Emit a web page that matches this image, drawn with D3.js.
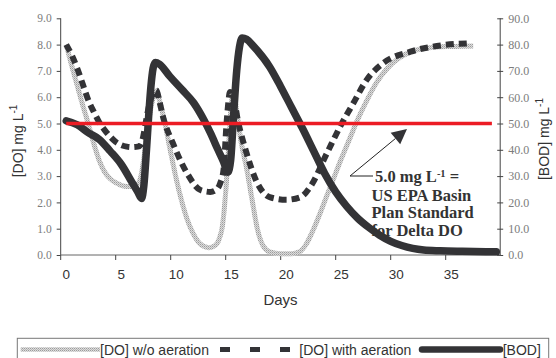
<!DOCTYPE html>
<html><head><meta charset="utf-8">
<script src="https://cdn.jsdelivr.net/npm/d3@7/dist/d3.min.js"></script>
<style>body{margin:0;background:#fff}svg{display:block}</style>
</head><body>
<svg id="c" width="556" height="358"></svg>
<script>
// ---- data ----
const bodDays = [0,1,2,3,4,5,6,6.5,6.85,7.05,7.3,7.5,7.7,7.9,8.1,8.5,9.4,10.5,11.6,12.5,13.1,13.8,14.3,14.7,14.95,15.2,15.5,15.75,16.0,16.4,17,18.5,19.5,20.5,21.5,22.5,23.5,24.5,25.5,26.5,27.5,28.5,29.5,30.5,31.5,32.5,34,36,39.1];
const bodVals = [51,49.5,46.5,44,39.5,34.5,27.5,24,21.5,26,40,53,64,71,73.2,72.5,68,63,57.8,51.5,46.5,40,35.5,31.5,36,52,70,79,82.5,82,79.5,71.5,64,56,48,39.5,31,24,18.5,14,10.5,7.5,5.2,3.6,2.5,1.9,1.6,1.4,1.2];

const noAerDays = [0,0.5,1,1.5,2,2.5,3,3.5,4,4.5,5,5.5,6,6.5,6.8,7.1,7.4,7.7,8.0,8.2,8.5,9,9.5,10,10.5,11,11.5,12,12.5,13,13.5,13.9,14.2,14.5,14.75,15.0,15.2,15.45,15.9,16.4,16.9,17.4,17.9,18.5,19.5,20.5,21.2,21.8,22.4,23,23.6,24.3,25,25.8,26.5,27.3,28.2,29.2,30.3,31.5,33,35,37];
const noAerVals = [8.0,7.2,6.45,5.7,5.0,4.25,3.6,3.15,2.9,2.75,2.65,2.6,2.6,2.7,3.0,3.8,4.8,5.6,6.1,6.25,5.85,4.95,3.9,2.9,2.05,1.35,0.85,0.5,0.33,0.28,0.35,0.6,1.1,2.4,4.0,5.7,6.25,5.6,4.3,3.3,2.1,0.95,0.35,0.12,0.05,0.05,0.12,0.4,0.9,1.5,2.15,2.9,3.65,4.45,5.15,5.85,6.55,7.1,7.5,7.75,7.88,7.93,7.95];

const aerDays = [0,0.5,1,1.5,2,2.5,3,3.5,4,4.5,5,5.5,6,6.5,6.8,7.0,7.3,7.6,8.0,8.2,8.5,8.8,9.7,11.0,12.2,13.1,13.7,14.0,14.3,14.6,14.9,15.2,15.6,16.4,17.3,18.5,20.0,21.3,22.2,23.7,24.9,26.1,27.3,28.8,31.3,34.3,36.7];
const aerVals = [8.0,7.6,7.1,6.5,5.9,5.45,5.05,4.75,4.5,4.3,4.18,4.12,4.1,4.12,4.2,4.5,5.2,5.8,6.2,6.27,5.8,5.26,4.25,3.1,2.47,2.4,2.5,2.73,3.23,5.13,6.2,6.0,5.13,3.87,2.8,2.2,2.1,2.2,2.6,3.87,4.88,5.77,6.65,7.29,7.73,7.98,8.05];

const stdDays = [0,38.7];
const stdVals = [5.0,5.0];

const xTicks = [0,5,10,15,20,25,30,35];
const yLeftTicks = [0,1,2,3,4,5,6,7,8,9];
const yRightTicks = [0,10,20,30,40,50,60,70,80,90];
const legendLabels = ["[DO] w/o aeration","[DO] with aeration","[BOD]"];
const noteLines = ["5.0 mg L","US EPA Basin","Plan Standard","for Delta DO"];

// ---- scales ----
const svg = d3.select("#c");
const x = d3.scaleLinear().domain([-0.5,39.5]).range([60.7,500.7]);
const yL = d3.scaleLinear().domain([0,9]).range([255,18.3]);
const yR = d3.scaleLinear().domain([0,90]).range([255,18.3]);

const defs = svg.append("defs");
const pat = defs.append("pattern").attr("id","tex").attr("patternUnits","userSpaceOnUse").attr("width",2).attr("height",2);
pat.append("rect").attr("width",2).attr("height",2).attr("fill","#dcdcdc");
pat.append("rect").attr("width",1).attr("height",1).attr("fill","#9c9c9c");
pat.append("rect").attr("x",1).attr("y",1).attr("width",1).attr("height",1).attr("fill","#b8b8b8");

// ---- axes ----
const serif = "'Liberation Serif','Times New Roman',serif";
const sans = "'Liberation Sans',Arial,sans-serif";

// left axis
const gL = svg.append("g").attr("transform","translate(60.7,0)")
  .call(d3.axisLeft(yL).tickValues(yLeftTicks).tickSize(4).tickPadding(5).tickFormat(d3.format(".1f")));
gL.select(".domain").attr("stroke","#444").attr("d","M0,"+yL(9)+"V"+yL(0));
gL.selectAll(".tick line").attr("stroke","#444");
gL.selectAll("text").attr("font-family",serif).attr("font-size",11.5).attr("fill","#7c7c7c");

// right axis
const gR = svg.append("g").attr("transform","translate(500.2,0)")
  .call(d3.axisRight(yR).tickValues(yRightTicks).tickSize(3).tickPadding(5).tickFormat(d3.format(".1f")));
gR.select(".domain").attr("stroke","#444").attr("d","M0,"+yR(90)+"V"+yR(0));
gR.selectAll(".tick line").attr("stroke","#444").attr("x1",-3);
gR.selectAll("text").attr("font-family",serif).attr("font-size",12).attr("fill","#7c7c7c");

// bottom axis
const gB = svg.append("g").attr("transform","translate(0,255)");
gB.append("line").attr("x1",x(-0.5)).attr("x2",x(39.5)).attr("stroke","#666");
gB.selectAll("line.t").data(xTicks).join("line").attr("class","t")
  .attr("x1",d=>x(d-0.5)).attr("x2",d=>x(d-0.5)).attr("y1",0).attr("y2",5).attr("stroke","#444");
gB.selectAll("text").data(xTicks).join("text")
  .attr("x",d=>x(d)).attr("y",24).attr("text-anchor","middle")
  .attr("font-family",sans).attr("font-size",13.5).attr("fill","#333").text(d=>d);

svg.append("text").attr("x",280.5).attr("y",305).attr("text-anchor","middle")
  .attr("font-family",sans).attr("font-size",15).attr("fill","#333").text("Days");

const tL = svg.append("text").attr("transform","translate(23,141) rotate(-90)").attr("text-anchor","middle")
  .attr("font-family",sans).attr("font-size",14).attr("fill","#333");
tL.append("tspan").text("[DO] mg L");
tL.append("tspan").attr("dy",-6).attr("font-size",10).text("-1");

const tR = svg.append("text").attr("transform","translate(549,139) rotate(-90)").attr("text-anchor","middle")
  .attr("font-family",sans).attr("font-size",14).attr("fill","#333");
tR.append("tspan").text("[BOD] mg L");
tR.append("tspan").attr("dy",-6).attr("font-size",10).text("-1");

// ---- series ----
const lineL = d3.line().x(d=>x(d[0])).y(d=>yL(d[1])).curve(d3.curveMonotoneX);
const lineR = d3.line().x(d=>x(d[0])).y(d=>yR(d[1])).curve(d3.curveMonotoneX);
const zip = (a,b)=>a.map((v,i)=>[v,b[i]]);

svg.append("path").attr("d",lineL(zip(noAerDays,noAerVals))).attr("fill","none")
  .attr("stroke","url(#tex)").attr("stroke-width",5);
svg.append("path").attr("d",lineL(zip(aerDays,aerVals))).attr("fill","none")
  .attr("stroke","#333336").attr("stroke-width",6).attr("stroke-dasharray","8,5");
svg.append("path").attr("d",lineR(zip(bodDays,bodVals))).attr("fill","none")
  .attr("stroke","#333336").attr("stroke-width",7.5).attr("stroke-linecap","round").attr("stroke-linejoin","round");
svg.append("path").attr("d",d3.line().x(d=>x(d[0])).y(d=>yL(d[1]))(zip(stdDays,stdVals))).attr("fill","none")
  .attr("stroke","#ec1c24").attr("stroke-width",3.5);

// ---- annotation ----
const ax0 = 350, ay0 = 176, ax1 = 407, ay1 = 129;
svg.append("line").attr("x1",ax0).attr("y1",ay0).attr("x2",373).attr("y2",ay0).attr("stroke","#222").attr("stroke-width",1);
const ang = Math.atan2(ay1-ay0, ax1-ax0), L = 15, W = 7.5;
const bx = ax1 - L*Math.cos(ang), by = ay1 - L*Math.sin(ang);
svg.append("line").attr("x1",ax0).attr("y1",ay0).attr("x2",bx).attr("y2",by).attr("stroke","#222").attr("stroke-width",1);
svg.append("path").attr("d",`M${ax1},${ay1}L${bx+W*Math.sin(ang)},${by-W*Math.cos(ang)}L${bx-W*Math.sin(ang)},${by+W*Math.cos(ang)}Z`).attr("fill","#333336");

const note = svg.append("g").attr("font-family",serif).attr("font-weight","bold").attr("font-size",16.5).attr("fill","#333");
const t1 = note.append("text").attr("x",375).attr("y",182);
t1.append("tspan").text(noteLines[0]);
t1.append("tspan").attr("dy",-5.5).attr("font-size",10.5).text("-1");
t1.append("tspan").attr("dy",5.5).text(" =");
noteLines.slice(1).forEach((s,i)=>note.append("text").attr("x",371.5).attr("y",200.5+i*17.5).text(s));

// ---- legend ----
const lg = svg.append("g");
lg.append("rect").attr("x",17.3).attr("y",338.3).attr("width",531.4).attr("height",30).attr("fill","#fff").attr("stroke","#777");
const ly = 349.5;
lg.append("line").attr("x1",20.7).attr("x2",100).attr("y1",ly).attr("y2",ly).attr("stroke","url(#tex)").attr("stroke-width",4.5);
lg.append("line").attr("x1",220).attr("x2",290).attr("y1",ly).attr("y2",ly).attr("stroke","#333336").attr("stroke-width",5).attr("stroke-dasharray","10,20");
lg.append("line").attr("x1",422).attr("x2",500).attr("y1",ly).attr("y2",ly).attr("stroke","#333336").attr("stroke-width",6.5).attr("stroke-linecap","round");
const lx = [100,299.3,502.7];
legendLabels.forEach((s,i)=>lg.append("text").attr("x",lx[i]).attr("y",ly+5).attr("font-family",sans).attr("font-size",14).attr("fill","#333").text(s));
</script>
</body></html>
